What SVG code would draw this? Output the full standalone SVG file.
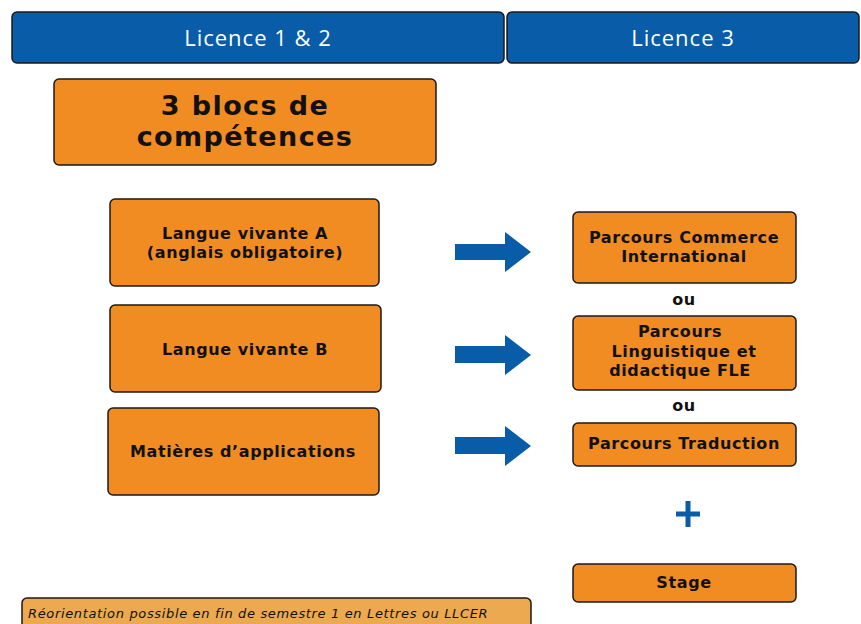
<svg xmlns="http://www.w3.org/2000/svg" width="861" height="624" viewBox="0 0 861 624">
<style>
.hdr{fill:#085CA8;stroke:#1a1a1a;stroke-width:1.5}
.box{fill:#F08C22;stroke:#1a1a1a;stroke-width:1.5}
.note{fill:#EDA94F;stroke:#1a1a1a;stroke-width:1.5}
.ht{font-family:"Open Sans",sans-serif;font-size:22px;fill:#fff;text-anchor:middle;letter-spacing:1px}
.t{font-family:"DejaVu Sans",sans-serif;font-weight:700;font-size:16px;fill:#111;text-anchor:middle;letter-spacing:0.6px}
.big{font-family:"DejaVu Sans",sans-serif;font-weight:700;font-size:27px;fill:#111;text-anchor:middle;letter-spacing:1.4px}
.it{font-family:"DejaVu Sans",sans-serif;font-style:italic;font-size:13px;fill:#111;letter-spacing:0.65px}
.arr{fill:#085CA8}
</style>
<g id="hdr-l12"><rect class="hdr" x="12" y="12" width="492" height="51" rx="5"/><text class="ht" x="258" y="46">Licence 1 &amp; 2</text></g>
<g id="hdr-l3"><rect class="hdr" x="507" y="12" width="352" height="51" rx="5"/><text class="ht" x="683" y="46">Licence 3</text></g>
<g id="blocs"><rect class="box" x="54" y="79" width="382" height="86" rx="5"/><text class="big" x="245" y="115">3 blocs de</text><text class="big" x="245" y="146">compétences</text></g>
<g id="lva"><rect class="box" x="110" y="199" width="269" height="87" rx="5"/><text class="t" x="245" y="239">Langue vivante A</text><text class="t" x="245" y="258">(anglais obligatoire)</text></g>
<g id="lvb"><rect class="box" x="110" y="305" width="271" height="87" rx="5"/><text class="t" x="245" y="355">Langue vivante B</text></g>
<g id="mat"><rect class="box" x="108" y="408" width="271" height="87" rx="5"/><text class="t" x="243" y="457">Matières d’applications</text></g>
<g id="connectors">
<polygon class="arr" points="455,244 505,244 505,232 531,252 505,272 505,260 455,260"/>
<polygon class="arr" points="455,346 505,346 505,335 531,355 505,375 505,363 455,363"/>
<polygon class="arr" points="455,437 505,437 505,426 531,446 505,466 505,454 455,454"/>
</g>
<g id="commerce"><rect class="box" x="573" y="212" width="223" height="71" rx="5"/><text class="t" x="684" y="243">Parcours Commerce</text><text class="t" x="684" y="262">International</text></g>
<text class="t" x="684" y="305">ou</text>
<g id="ling"><rect class="box" x="573" y="316" width="223" height="74" rx="5"/><text class="t" x="680" y="337">Parcours</text><text class="t" x="684" y="357">Linguistique et</text><text class="t" x="680" y="376">didactique FLE</text></g>
<text class="t" x="684" y="411">ou</text>
<g id="trad"><rect class="box" x="573" y="423" width="223" height="43" rx="5"/><text class="t" x="684" y="449">Parcours Traduction</text></g>
<g id="plus"><rect class="arr" x="685.5" y="501" width="5" height="26"/><rect class="arr" x="676" y="511.5" width="24" height="5"/></g>
<g id="stage"><rect class="box" x="573" y="564" width="223" height="38" rx="5"/><text class="t" x="684" y="588">Stage</text></g>
<g id="note"><rect class="note" x="22" y="598" width="509" height="40" rx="5"/><text class="it" x="28" y="618">Réorientation possible en fin de semestre 1 en Lettres ou LLCER</text></g>
</svg>
